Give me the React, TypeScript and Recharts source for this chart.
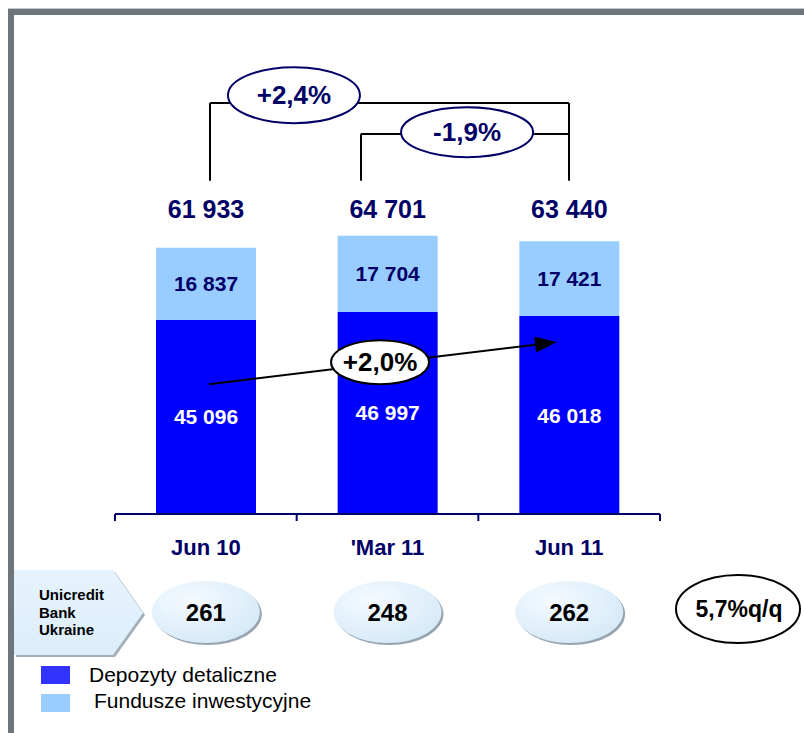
import React from 'react';
import { BarChart, Bar, XAxis, YAxis, LabelList, ReferenceLine, ReferenceDot, Customized } from 'recharts';

// values
const categories = ['Jun 10', "'Mar 11", 'Jun 11'];
const depozyty = [45096, 46997, 46018];
const fundusze = [16837, 17704, 17421];
const totals = [61933, 64701, 63440];
const bankValues = [261, 248, 262];
const seriesNames = ['Depozyty detaliczne', 'Fundusze inwestycyjne'];
const growthLabels = ['+2,4%', '-1,9%', '+2,0%'];
const bankName = ['Unicredit', 'Bank', 'Ukraine'];
const qoqLabel = '5,7%q/q';

// slot = band centre on the 0..3 helper axis used by the annotations
const data = categories.map((cat, i) => ({
  cat,
  slot: i + 0.5,
  depozyty: depozyty[i],
  fundusze: fundusze[i],
  total: totals[i],
}));

const NAVY = '#000066';
const DARK = '#0000FF';
const LIGHT = '#99CCFF';
const FONT = "'Liberation Sans', Arial, Helvetica, sans-serif";

const W = 804;
const H = 733;
const M = { top: 84, right: 144, bottom: 189, left: 115 };
const BAND = (W - M.left - M.right) / categories.length;

const fmt = (v: number) => String(v).replace(/\B(?=(\d{3})+(?!\d))/g, ' ');

// annotation anchors in data space (x on the 0..3 helper axis, y in value units)
const outerBracket = { x1: 0.523, x2: 2.499, yLow: 77500, yHigh: 95600 };
const innerBracket = { x1: 1.354, x2: 2.499, yLow: 77500, yHigh: 88400 };
const arrow = { x1: 0.517, y1: 30200, x2: 2.433, y2: 40000 };
const bubbles = [
  { x: 0.985, y: 97400, rx: 66, ry: 28, color: NAVY },
  { x: 1.938, y: 88800, rx: 66, ry: 25, color: NAVY },
  { x: 1.459, y: 35300, rx: 49, ry: 22, color: '#000000' },
];

const bracketStroke = { stroke: '#000000', strokeWidth: 2 };

const Bubble = (idx: number) => (p: any) => {
  const b = bubbles[idx];
  return (
    <g>
      <ellipse cx={p.cx} cy={p.cy} rx={b.rx} ry={b.ry} fill="#FFFFFF" stroke={b.color} strokeWidth={2} />
      <text x={p.cx} y={p.cy + 9} textAnchor="middle" fontSize={26} fontWeight="bold" fill={b.color} fontFamily={FONT}>
        {growthLabels[idx]}
      </text>
    </g>
  );
};

const ArrowShape = (p: any) => {
  const { x1, y1, x2, y2 } = p;
  const a = Math.atan2(y2 - y1, x2 - x1);
  const len = 22;
  const half = 8;
  const bx = x2 - len * Math.cos(a);
  const by = y2 - len * Math.sin(a);
  const nx = -Math.sin(a) * half;
  const ny = Math.cos(a) * half;
  return (
    <g>
      <line x1={x1} y1={y1} x2={bx} y2={by} stroke="#000" strokeWidth={2} />
      <polygon points={`${x2},${y2} ${bx + nx},${by + ny} ${bx - nx},${by - ny}`} fill="#000" />
    </g>
  );
};

const CategoryTick = (props: any) => {
  const { x, y, payload } = props;
  const i = payload.index;
  return (
    <g>
      <line x1={x - BAND / 2} x2={x - BAND / 2} y1={y - 8} y2={y - 1} stroke={NAVY} strokeWidth={2} />
      {i === categories.length - 1 && (
        <line x1={x + BAND / 2} x2={x + BAND / 2} y1={y - 8} y2={y - 1} stroke={NAVY} strokeWidth={2} />
      )}
      <text x={x} y={y + 33} textAnchor="middle" fontSize={22} fontWeight="bold" fill={NAVY} fontFamily={FONT}>
        {payload.value}
      </text>
      <ellipse cx={x + 2} cy={y + 92} rx={54} ry={31} fill="#98A5B0" />
      <ellipse cx={x} cy={y + 90} rx={54} ry={31} fill="url(#ovalFill)" />
      <text x={x} y={y + 99} textAnchor="middle" fontSize={24} fontWeight="bold" fill="#000" fontFamily={FONT}>
        {bankValues[i]}
      </text>
    </g>
  );
};

const TotalLabel = (props: any) => {
  const { x, width, index } = props;
  return (
    <text x={x + width / 2} y={218} textAnchor="middle" fontSize={25} fontWeight="bold" fill={NAVY} fontFamily={FONT}>
      {fmt(totals[index])}
    </text>
  );
};

const Extras = () => (
  <g>
    <defs>
      <radialGradient id="ovalFill" cx="35%" cy="30%" r="75%">
        <stop offset="0%" stopColor="#F4FAFF" />
        <stop offset="100%" stopColor="#D6EAF8" />
      </radialGradient>
      <linearGradient id="tagFill" x1="0" y1="0" x2="0" y2="1">
        <stop offset="0%" stopColor="#E6F3FD" />
        <stop offset="100%" stopColor="#DCEEFB" />
      </linearGradient>
    </defs>
    {/* bank tag */}
    <polygon points="16,572 115,572 145,615 115,657 16,657" fill="#A4AEB6" />
    <polygon points="14,570 113,570 143,613 113,655 14,655" fill="url(#tagFill)" />
    {bankName.map((t, i) => (
      <text key={t} x={39} y={600 + i * 17.5} fontSize={15} fontWeight="bold" fill="#000" fontFamily={FONT}>
        {t}
      </text>
    ))}
    {/* q/q bubble */}
    <ellipse cx={738} cy={609} rx={62} ry={34} fill="#FFFFFF" stroke="#000" strokeWidth={2} />
    <text x={739} y={617} textAnchor="middle" fontSize={23} fontWeight="bold" fill="#000" fontFamily={FONT}>
      {qoqLabel}
    </text>
    {/* legend */}
    {seriesNames.map((name, i) => (
      <g key={name}>
        <rect x={41} y={666 + i * 28} width={29} height={18} fill={i === 0 ? '#3333FF' : LIGHT} />
        <text x={i === 0 ? 89 : 94} y={682 + i * 26} fontSize={21} fill="#000" fontFamily={FONT}>
          {name}
        </text>
      </g>
    ))}
  </g>
);

export default function App() {
  return (
    <div style={{ position: 'absolute', left: 0, top: 0, width: W, height: H, background: '#FFFFFF', overflow: 'hidden' }}>
      <div style={{ position: 'absolute', left: 8, top: 8, width: W - 8, height: 1, background: '#C4C7C9' }} />
      <div style={{ position: 'absolute', left: 8, top: 9, width: W - 8, height: 6, background: '#6F767B' }} />
      <div style={{ position: 'absolute', left: 8, top: 9, width: 6, height: H - 9, background: '#6F767B' }} />
      <div style={{ position: 'absolute', left: 0, top: 0 }}>
        <BarChart width={W} height={H} data={data} margin={M} style={{ fontFamily: FONT }}>
          <XAxis
            dataKey="cat"
            height={30}
            axisLine={{ stroke: NAVY, strokeWidth: 2 }}
            tickLine={false}
            tickSize={6}
            tickMargin={2}
            tick={CategoryTick}
            interval={0}
          />
          <XAxis xAxisId="n" dataKey="slot" type="number" domain={[0, 3]} allowDataOverflow hide />
          <YAxis hide domain={[0, 100000]} allowDataOverflow />
          <Bar dataKey="depozyty" stackId="a" fill={DARK} barSize={100} isAnimationActive={false}>
            <LabelList dataKey="depozyty" position="center" formatter={(v: any) => fmt(v)} fill="#FFFFFF" fontSize={21} fontWeight="bold" />
          </Bar>
          <Bar dataKey="fundusze" stackId="a" fill={LIGHT} barSize={100} isAnimationActive={false}>
            <LabelList dataKey="fundusze" position="center" formatter={(v: any) => fmt(v)} fill={NAVY} fontSize={21} fontWeight="bold" />
            <LabelList dataKey="total" content={TotalLabel} />
          </Bar>
          {/* brackets */}
          <ReferenceLine xAxisId="n" ifOverflow="visible" segment={[{ x: outerBracket.x1, y: outerBracket.yLow }, { x: outerBracket.x1, y: outerBracket.yHigh }]} {...bracketStroke} />
          <ReferenceLine xAxisId="n" ifOverflow="visible" segment={[{ x: outerBracket.x1, y: outerBracket.yHigh }, { x: outerBracket.x2, y: outerBracket.yHigh }]} {...bracketStroke} />
          <ReferenceLine xAxisId="n" ifOverflow="visible" segment={[{ x: outerBracket.x2, y: outerBracket.yHigh }, { x: outerBracket.x2, y: outerBracket.yLow }]} {...bracketStroke} />
          <ReferenceLine xAxisId="n" ifOverflow="visible" segment={[{ x: innerBracket.x1, y: innerBracket.yLow }, { x: innerBracket.x1, y: innerBracket.yHigh }]} {...bracketStroke} />
          <ReferenceLine xAxisId="n" ifOverflow="visible" segment={[{ x: innerBracket.x1, y: innerBracket.yHigh }, { x: innerBracket.x2, y: innerBracket.yHigh }]} {...bracketStroke} />
          <ReferenceLine xAxisId="n" ifOverflow="visible" segment={[{ x: arrow.x1, y: arrow.y1 }, { x: arrow.x2, y: arrow.y2 }]} shape={ArrowShape} />
          {bubbles.map((b, i) => (
            <ReferenceDot key={i} xAxisId="n" ifOverflow="visible" x={b.x} y={b.y} r={b.rx} shape={Bubble(i)} />
          ))}
          <Customized component={Extras} />
        </BarChart>
      </div>
    </div>
  );
}
